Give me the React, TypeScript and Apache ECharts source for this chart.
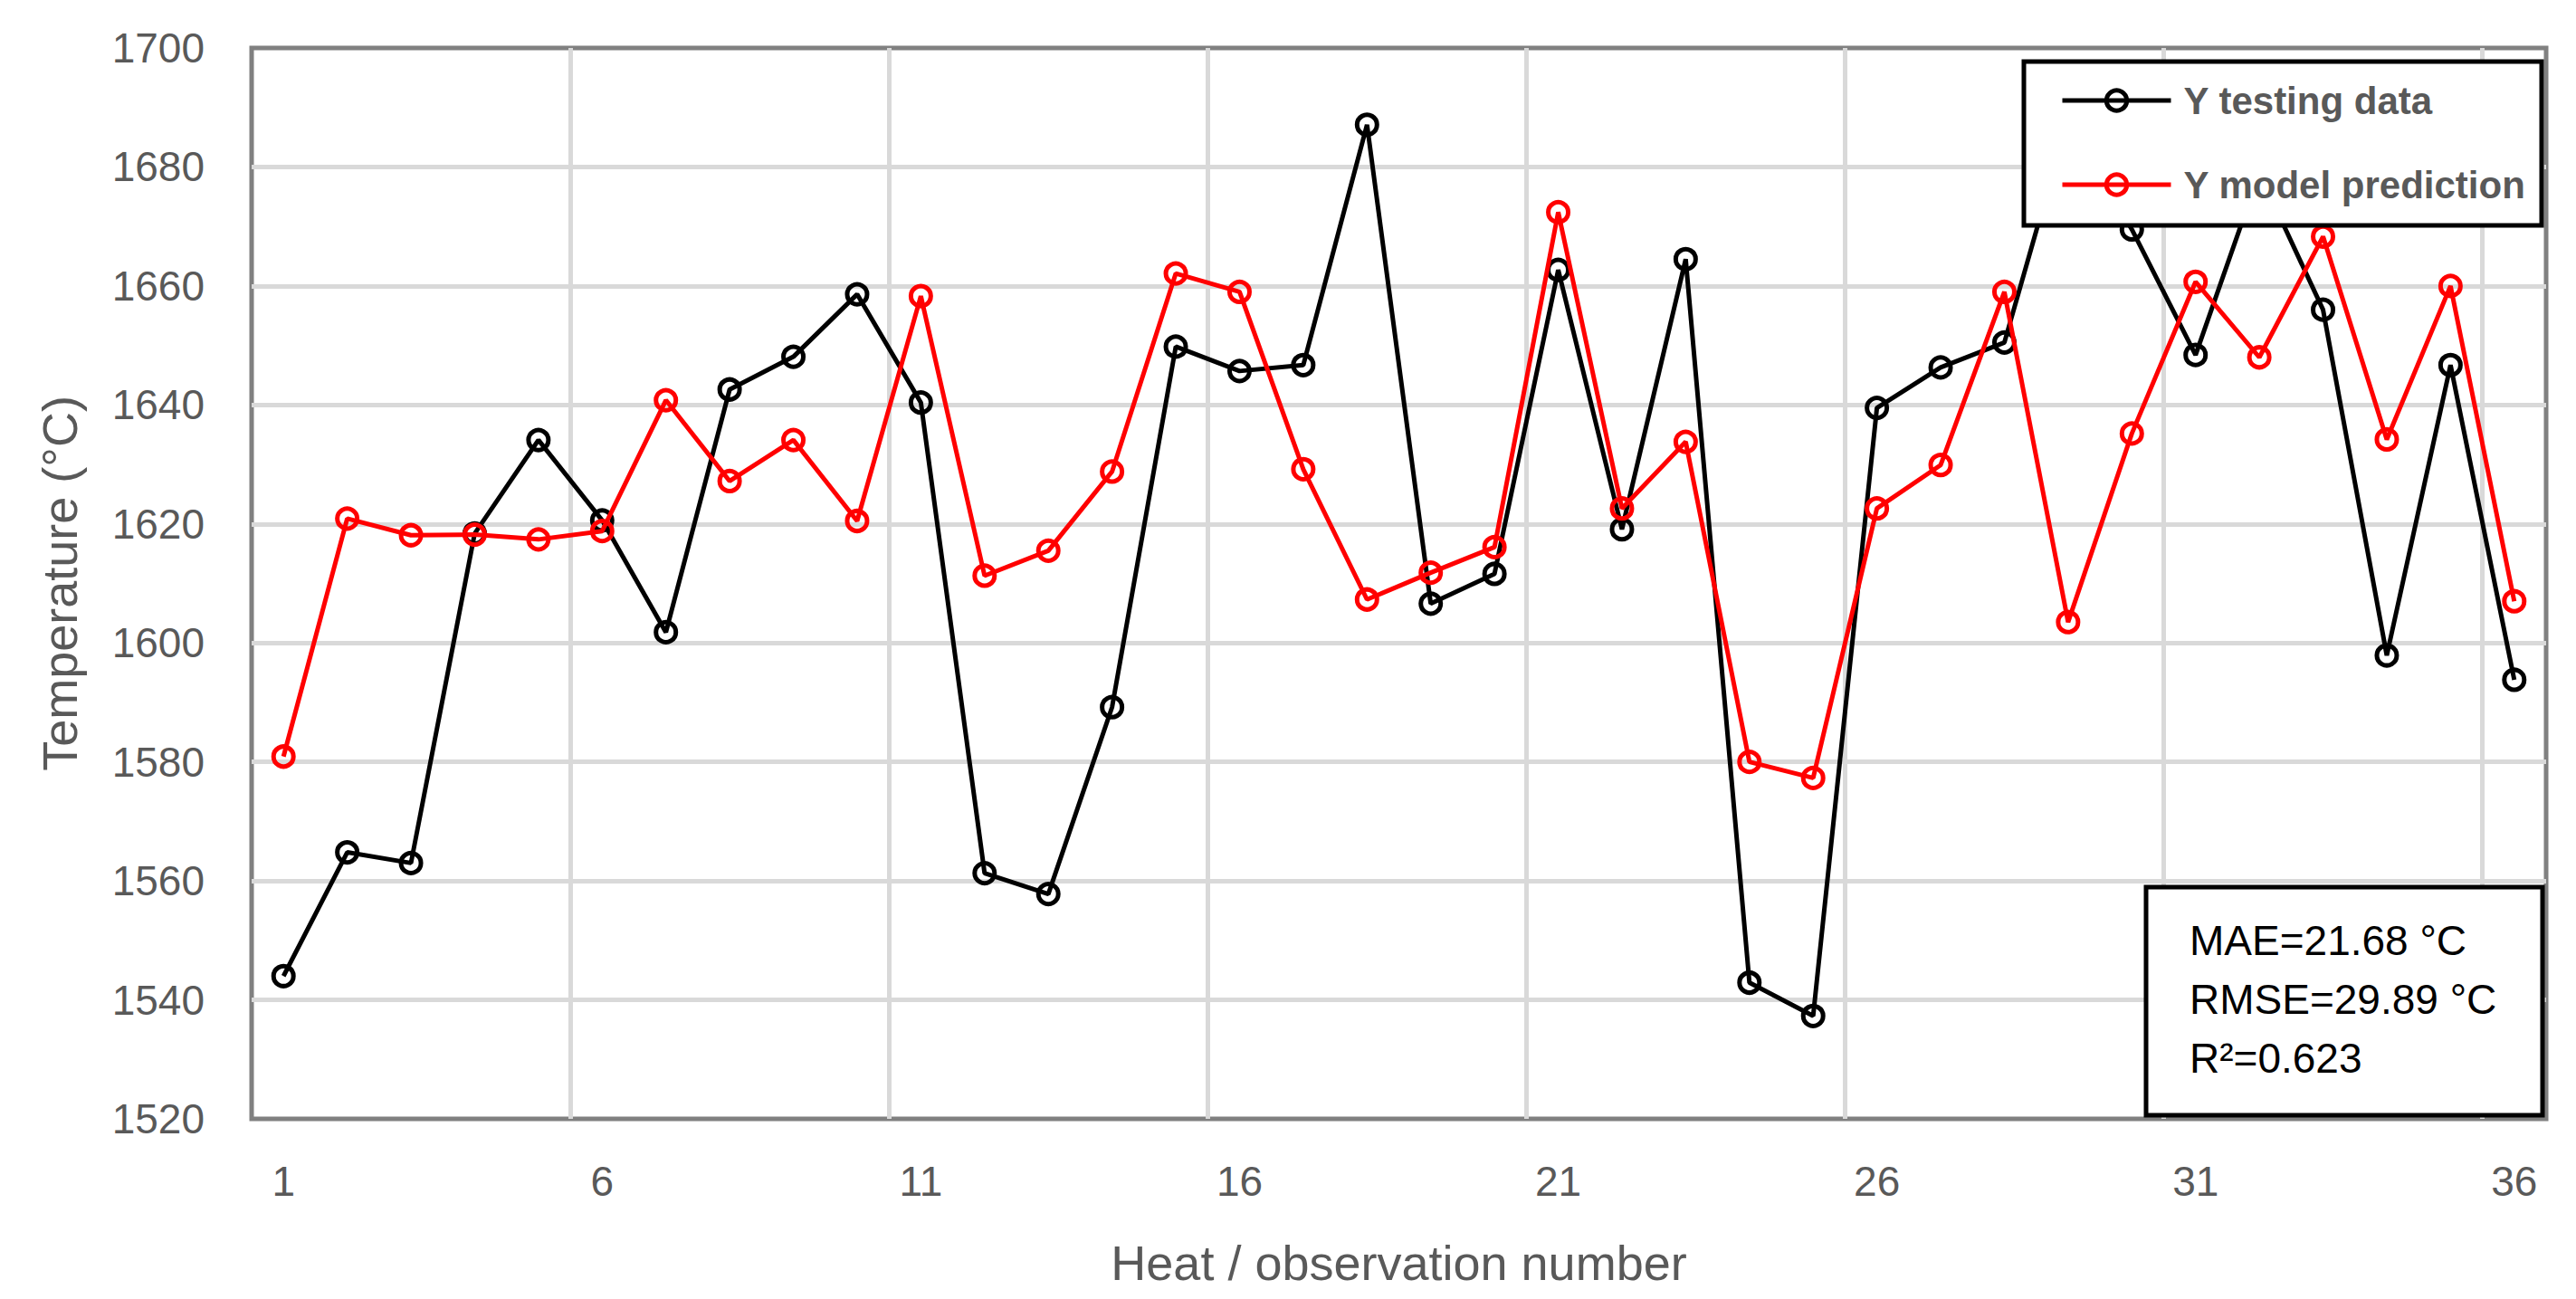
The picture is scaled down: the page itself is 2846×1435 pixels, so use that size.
import React, { useEffect, useRef } from "react";
import * as echarts from "echarts";

const categories = [
  "1", "2", "3", "4", "5", "6", "7", "8", "9", "10", "11", "12",
  "13", "14", "15", "16", "17", "18", "19", "20", "21", "22", "23", "24",
  "25", "26", "27", "28", "29", "30", "31", "32", "33", "34", "35", "36",
];

const testingData = [
  1544, 1564.8, 1563, 1618.4, 1634.1, 1620.6, 1601.8, 1642.6, 1648.1, 1658.6,
  1640.4, 1561.3, 1557.8, 1589.2, 1649.8, 1645.7, 1646.7, 1687.1, 1606.6, 1611.6,
  1662.7, 1619.1, 1664.5, 1542.9, 1537.3, 1639.5, 1646.3, 1650.5, 1688, 1669.5,
  1648.4, 1679, 1656, 1597.9, 1646.7, 1593.8,
];

const predictionData = [
  1580.9, 1620.9, 1618.1, 1618.2, 1617.4, 1618.8, 1640.8, 1627.2, 1634.1, 1620.5,
  1658.3, 1611.3, 1615.5, 1628.8, 1662.1, 1659, 1629.2, 1607.3, 1611.8, 1616.1,
  1672.4, 1622.6, 1633.8, 1580, 1577.3, 1622.6, 1629.9, 1659, 1603.5, 1635.2,
  1660.7, 1648, 1668.3, 1634.2, 1660, 1607,
];

const seriesNames = ["Y testing data", "Y model prediction"];
const seriesColors = ["#000000", "#ff0000"];
const statsLines = ["MAE=21.68 °C", "RMSE=29.89 °C", "R²=0.623"];

const yMin = 1520;
const yMax = 1700;
const yStep = 20;

export default function App() {
  const ref = useRef<HTMLDivElement>(null);

  useEffect(() => {
    if (!ref.current) return;
    const chart = echarts.init(ref.current, undefined, { renderer: "svg" });
    const font = "Liberation Sans";
    const gray = "#595959";
    const lineW = 5;

    const option = {
      animation: false,
      backgroundColor: "#ffffff",
      textStyle: { fontFamily: font },
      grid: {
        left: 278,
        right: 33,
        top: 53,
        bottom: 199,
        show: true,
        borderColor: "#808080",
        borderWidth: 5,
        backgroundColor: "transparent",
      },
      xAxis: {
        type: "category",
        data: categories,
        boundaryGap: true,
        name: "Heat / observation number",
        nameLocation: "middle",
        nameGap: 132,
        nameTextStyle: { fontSize: 54, color: gray, fontFamily: font },
        axisLine: { show: false },
        axisTick: { show: false },
        axisLabel: { interval: 4, fontSize: 46, color: gray, margin: 46, fontFamily: font },
        splitLine: {
          show: true,
          interval: 4,
          showMinLine: false,
          showMaxLine: false,
          lineStyle: { color: "#d9d9d9", width: 5 },
        },
      },
      yAxis: {
        type: "value",
        min: yMin,
        max: yMax,
        interval: yStep,
        name: "Temperature (°C)",
        nameLocation: "middle",
        nameGap: 185,
        nameTextStyle: { fontSize: 54, color: gray, fontFamily: font },
        axisLine: { show: false },
        axisTick: { show: false },
        axisLabel: {
          fontSize: 46,
          color: gray,
          margin: 52,
          fontFamily: font,
          formatter: (v: number) => String(v),
        },
        splitLine: {
          show: true,
          showMinLine: false,
          showMaxLine: false,
          lineStyle: { color: "#d9d9d9", width: 5 },
        },
      },
      legend: {
        orient: "vertical",
        left: 2276,
        top: 90,
        padding: 0,
        itemWidth: 120,
        itemHeight: 28,
        itemGap: 51,
        z: 20,
        data: seriesNames,
        lineStyle: { width: lineW },
        itemStyle: { borderWidth: lineW },
        textStyle: {
          fontSize: 42,
          fontWeight: "bold",
          color: gray,
          fontFamily: font,
          padding: [0, 0, 0, 9],
        },
      },
      graphic: [
        {
          type: "rect",
          z: 10,
          shape: { x: 2236, y: 68, width: 572, height: 181 },
          style: { fill: "#ffffff", stroke: "#000000", lineWidth: 5 },
        },
        {
          type: "rect",
          z: 10,
          shape: { x: 2371, y: 980, width: 438, height: 252 },
          style: { fill: "#ffffff", stroke: "#000000", lineWidth: 5 },
        },
        ...statsLines.map((t, i) => ({
          type: "text",
          z: 11,
          x: 2419,
          y: 1039 + i * 65,
          style: {
            text: t,
            fill: "#000000",
            fontSize: 46,
            fontFamily: font,
            textVerticalAlign: "middle",
            verticalAlign: "middle",
          },
        })),
      ],
      series: [testingData, predictionData].map((d, i) => ({
        name: seriesNames[i],
        type: "line",
        data: d,
        symbol: "circle",
        symbolSize: 22,
        z: 3 + i,
        itemStyle: {
          color: "rgba(255,255,255,0)",
          borderColor: seriesColors[i],
          borderWidth: lineW,
        },
        lineStyle: { color: seriesColors[i], width: lineW },
        emphasis: { disabled: true },
      })),
    };

    chart.setOption(option as any);
    return () => chart.dispose();
  }, []);

  return (
    <div
      ref={ref}
      style={{ position: "absolute", left: 0, top: 0, width: 2846, height: 1435 }}
    />
  );
}
